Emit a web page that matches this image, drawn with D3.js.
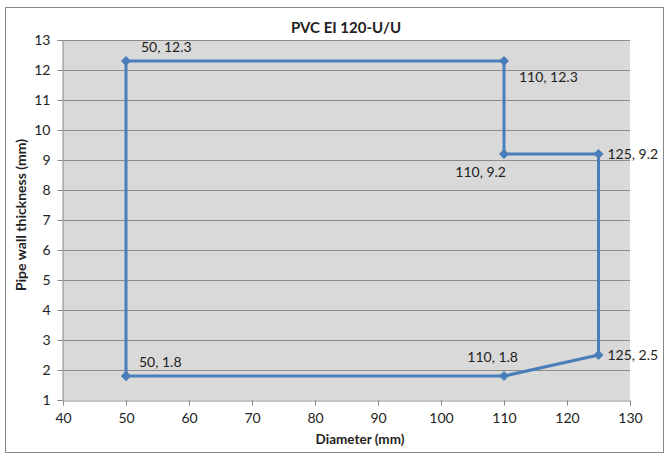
<!DOCTYPE html>
<html><head><meta charset="utf-8">
<script src="https://cdn.jsdelivr.net/npm/d3@7"></script>
<style>body{margin:0;background:#fff;} text{font-family:Lato,"Open Sans",sans-serif;}</style>
</head><body>
<svg id="c" width="671" height="461"></svg>
<script>
const diameters = [50, 50, 110, 110, 125, 125, 110, 50];
const thickness = [1.8, 12.3, 12.3, 9.2, 9.2, 2.5, 1.8, 1.8];
const labelPos = ["ar", "ar2", "br", "bl", "r", "r", "al", null];
const xTicks = [40, 50, 60, 70, 80, 90, 100, 110, 120, 130];
const yTicks = [1, 2, 3, 4, 5, 6, 7, 8, 9, 10, 11, 12, 13];

const svg = d3.select("#c");
const L = 63, R = 630, T = 40, B = 400;
const x = d3.scaleLinear().domain([40, 130]).range([L, R]);
const y = d3.scaleLinear().domain([1, 13]).range([B, T]);

svg.append("rect").attr("x", 5.5).attr("y", 7.5).attr("width", 658).attr("height", 445)
  .attr("fill", "#fff").attr("stroke", "#888").attr("stroke-width", 1);
svg.append("rect").attr("x", L).attr("y", T).attr("width", R - L).attr("height", B - T).attr("fill", "#d9d9d9");

svg.append("g").selectAll("line").data(yTicks.slice(1)).join("line")
  .attr("x1", L).attr("x2", R).attr("y1", d => Math.round(y(d)) + 0.5).attr("y2", d => Math.round(y(d)) + 0.5)
  .attr("stroke", "#8c8c8c").attr("stroke-width", 1);

const xa = svg.append("g").attr("transform", `translate(0,${B + 0.5})`)
  .call(d3.axisBottom(x).tickValues(xTicks).tickSize(5).tickPadding(8).tickFormat(d3.format("d")));
const ya = svg.append("g").attr("transform", `translate(${L - 0.5},0)`)
  .call(d3.axisLeft(y).tickValues(yTicks).tickSize(5).tickPadding(7).tickFormat(d3.format("d")));
[xa, ya].forEach(a => {
  a.selectAll("path,line").attr("stroke", "#888");
  a.selectAll("text").attr("font-size", 14).attr("fill", "#222").style("font-family", "Lato,'Open Sans',sans-serif");
});

svg.append("text").attr("x", 346).attr("y", 33).attr("text-anchor", "middle")
  .attr("font-size", 15).attr("font-weight", "bold").attr("fill", "#222").text("PVC EI 120-U/U");
svg.append("text").attr("x", 360).attr("y", 444).attr("text-anchor", "middle")
  .attr("font-size", 13.5).attr("font-weight", "bold").attr("fill", "#222").text("Diameter (mm)");
svg.append("text").attr("transform", "translate(26,215) rotate(-90)").attr("text-anchor", "middle")
  .attr("font-size", 14).attr("font-weight", "bold").attr("fill", "#222").text("Pipe wall thickness  (mm)");

const pts = diameters.map((d, i) => [d, thickness[i]]);
svg.append("path").datum(pts)
  .attr("d", d3.line().x(d => x(d[0])).y(d => y(d[1])))
  .attr("fill", "none").attr("stroke", "#4a7ebb").attr("stroke-width", 3).attr("stroke-linejoin", "miter");

svg.append("g").selectAll("path").data(pts).join("path")
  .attr("transform", d => `translate(${x(d[0])},${y(d[1])})`)
  .attr("d", "M0,-5L5,0L0,5L-5,0Z").attr("fill", "#4a7ebb");

const off = {ar: [13, -9, "start"], ar2: [15, -9, "start"], br: [15, 21, "start"], bl: [2, 23, "end"],
             r: [9, 5, "start"], al: [14, -14, "end"]};
svg.append("g").selectAll("text").data(pts.map((d, i) => [d, labelPos[i]]).filter(e => e[1])).join("text")
  .each(function(e) {
    const d = e[0], p = off[e[1]];
    d3.select(this).attr("x", x(d[0]) + p[0]).attr("y", y(d[1]) + p[1]).attr("text-anchor", p[2]);
  })
  .attr("font-size", 14).attr("fill", "#222").text(e => `${e[0][0]}, ${e[0][1]}`);
</script>
</body></html>
